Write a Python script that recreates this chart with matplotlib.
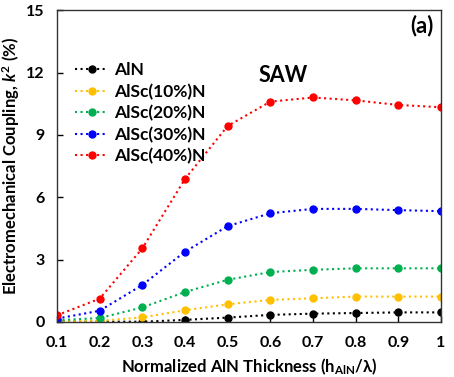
import matplotlib.pyplot as plt

plt.rcParams['font.family'] = ['Lato', 'DejaVu Sans']
plt.rcParams['mathtext.fontset'] = 'custom'
plt.rcParams['mathtext.rm'] = 'Lato:bold'
plt.rcParams['mathtext.it'] = 'Lato:bold:italic'
plt.rcParams['mathtext.bf'] = 'Lato:bold'

thickness = [0.1, 0.2, 0.3, 0.4, 0.5, 0.6, 0.7, 0.8, 0.9, 1.0]
aln = [0.03, 0.02, 0.01, 0.10, 0.21, 0.34, 0.40, 0.43, 0.46, 0.46]
alsc10 = [0.05, 0.05, 0.22, 0.56, 0.85, 1.06, 1.14, 1.22, 1.22, 1.22]
alsc20 = [0.08, 0.19, 0.70, 1.44, 2.03, 2.40, 2.51, 2.58, 2.58, 2.58]
alsc30 = [0.16, 0.54, 1.78, 3.38, 4.61, 5.23, 5.44, 5.44, 5.38, 5.33]
alsc40 = [0.32, 1.12, 3.54, 6.88, 9.43, 10.60, 10.80, 10.66, 10.44, 10.33]

series = [
    ('AlN', aln, 'black'),
    ('AlSc(10%)N', alsc10, '#FFC000'),
    ('AlSc(20%)N', alsc20, '#00B050'),
    ('AlSc(30%)N', alsc30, '#0000FF'),
    ('AlSc(40%)N', alsc40, '#FF0000'),
]

fig = plt.figure(figsize=(4.54, 3.77), dpi=100)
ax = fig.add_axes([0.1255, 0.146, 0.846, 0.827])

for name, vals, col in series:
    ax.plot(thickness, vals, linestyle=':', linewidth=1.5, color=col,
            marker='o', markersize=5, label=name)

ax.set_xlim(0.1, 1.0)
ax.set_ylim(0, 15)
ax.set_xticks(thickness)
ax.set_xticklabels(['0.1', '0.2', '0.3', '0.4', '0.5', '0.6', '0.7', '0.8', '0.9', '1'])
ax.set_yticks([0, 3, 6, 9, 12, 15])
ax.tick_params(direction='in', length=4, width=1, labelsize=11.5)
ax.tick_params(axis='x', pad=10)
ax.tick_params(axis='y', pad=9)
for lab in ax.get_xticklabels() + ax.get_yticklabels():
    lab.set_fontweight('bold')
for sp in ax.spines.values():
    sp.set_linewidth(1)
    sp.set_color('#333333')

ax.set_xlabel(r'Normalized AlN Thickness (h$_{\mathregular{AlN}}$/λ)',
              fontsize=12, fontweight='bold', labelpad=5)
ax.set_ylabel(r'Electromechanical Coupling, $k^2$ (%)',
              fontsize=12, fontweight='bold', labelpad=3)

ax.text(0.59, 0.79, 'SAW', transform=ax.transAxes, fontsize=15.5,
        fontweight='bold', ha='center', va='center')
ax.text(0.98, 0.95, '(a)', transform=ax.transAxes, fontsize=16,
        fontweight='bold', ha='right', va='center')

leg = ax.legend(loc='upper left', bbox_to_anchor=(0.03, 0.855), frameon=False,
                handlelength=1.9, handletextpad=0.3, labelspacing=0.3,
                prop={'weight': 'bold', 'size': 12.5}, borderaxespad=0)

fig.savefig('out.png', dpi=100)
